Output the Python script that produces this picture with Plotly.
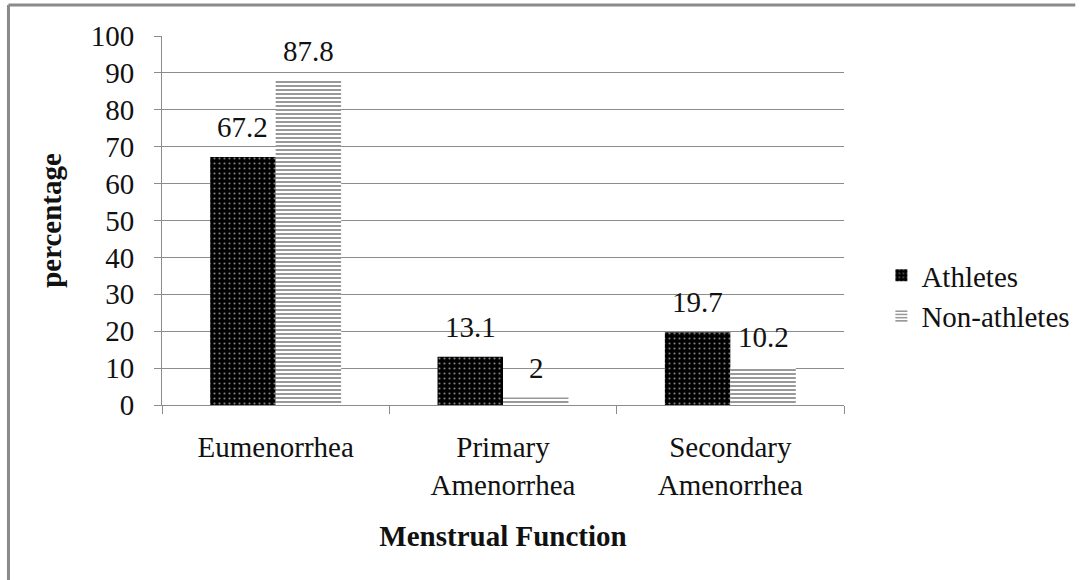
import plotly.graph_objects as go

categories = ["Eumenorrhea", "Primary<br>Amenorrhea", "Secondary<br>Amenorrhea"]
athletes = [67.2, 13.1, 19.7]
non_athletes = [87.8, 2, 10.2]
y_ticks = [0, 10, 20, 30, 40, 50, 60, 70, 80, 90, 100]

FONT = "Liberation Serif, Times New Roman, serif"
GRID = "#8c8c8c"
TXT = "#111111"
FS = 29

fig = go.Figure()
fig.add_trace(go.Bar(
    name="Athletes", x=categories, y=athletes,
    marker=dict(color="black", line=dict(width=0),
                pattern=dict(shape=".", fgcolor="white", bgcolor="black",
                             size=5, solidity=0.15, fillmode="overlay")),
))
fig.add_trace(go.Bar(
    name="Non-athletes", x=categories, y=non_athletes,
    marker=dict(color="white", line=dict(width=0),
                pattern=dict(shape="-", fgcolor="black", bgcolor="white",
                             size=4, solidity=0.4, fillmode="overlay")),
))

L, R, T, B = 162, 232, 36, 175
W, H = 1087, 580
pw, ph = W - L - R, H - T - B

# value labels above each bar (half a bar width left/right of the category centre)
half_bar = 33
for series, shift in ((athletes, -half_bar), (non_athletes, half_bar)):
    for cat, val in zip(categories, series):
        fig.add_annotation(
            x=cat, y=val, xref="x", yref="y", text=f"{val:g}",
            showarrow=False, yanchor="bottom", xanchor="center",
            xshift=shift, yshift=12,
            font=dict(family=FONT, size=FS, color=TXT),
        )


def px_x(px):
    return (px - L) / pw


def px_y(py):
    return (H - B - py) / ph


# outer frame (top and left edges of the chart border)
frame = dict(type="line", xref="paper", yref="paper",
             line=dict(color="#8a8a8a", width=3))
fig.add_shape(**frame, x0=px_x(6), x1=px_x(1090), y0=px_y(5), y1=px_y(5))
fig.add_shape(**frame, x0=px_x(6), x1=px_x(6), y0=px_y(5), y1=px_y(585))

fig.update_layout(
    width=W, height=H,
    margin=dict(l=L, r=R, t=T, b=B, pad=0),
    paper_bgcolor="white", plot_bgcolor="white",
    barmode="group", bargap=0.424, bargroupgap=0,
    font=dict(family=FONT, size=FS, color=TXT),
    showlegend=True,
    legend=dict(x=px_x(893), y=px_y(296), xanchor="left", yanchor="middle",
                font=dict(family=FONT, size=FS, color=TXT),
                itemsizing="constant", tracegroupgap=0, itemwidth=30,
                bgcolor="rgba(0,0,0,0)"),
)
fig.update_yaxes(
    range=[0, 100], tickvals=y_ticks, showgrid=True, gridcolor=GRID, gridwidth=1,
    showline=True, linecolor=GRID, linewidth=1,
    ticks="outside", ticklen=7, tickcolor=GRID, ticklabelstandoff=14,
    tickfont=dict(family=FONT, size=FS, color=TXT),
    title=dict(text="<b>percentage</b>", font=dict(family=FONT, size=FS, color=TXT), standoff=20),
    zeroline=False,
)
fig.update_xaxes(
    showline=True, linecolor=GRID, linewidth=1,
    ticks="outside", ticklen=8, tickcolor=GRID, tickson="boundaries",
    ticklabelstandoff=16,
    tickfont=dict(family=FONT, size=FS, color=TXT),
    title=dict(text="<b>Menstrual Function</b>", font=dict(family=FONT, size=FS, color=TXT), standoff=26),
)

fig.write_html("out.html")
